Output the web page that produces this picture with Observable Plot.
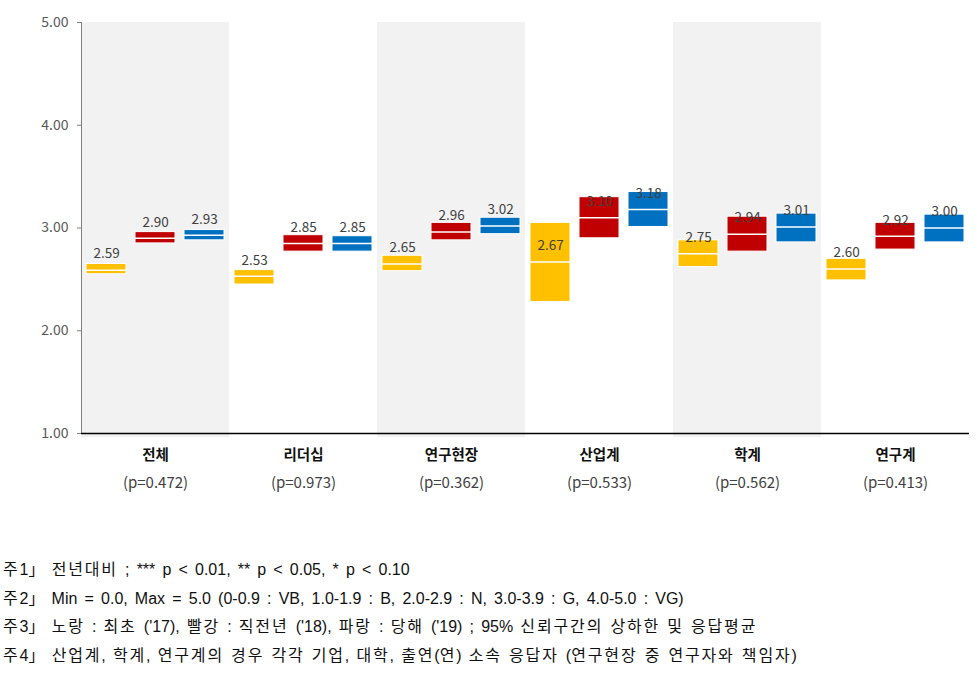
<!DOCTYPE html>
<html>
<head>
<meta charset="utf-8">
<script src="https://cdn.jsdelivr.net/npm/d3@7"></script>
<script src="https://cdn.jsdelivr.net/npm/@observablehq/plot@0.6"></script>
<style>
  body { margin: 0; background: #fff; font-family: "Noto Sans CJK KR", "Noto Sans", sans-serif; }
  #wrap { position: relative; width: 979px; height: 679px; }
  #notes { position: absolute; left: 3px; top: 556px; font-size: 16px; line-height: 28.7px; color: #111; font-family: "Liberation Sans", "Noto Sans CJK KR", sans-serif; word-spacing: 2.7px; }
  #notes div { white-space: nowrap; }
  #notes .k { letter-spacing: 1.85px; }
</style>
</head>
<body>
<div id="wrap">
  <div id="chart"></div>
  <div id="notes"></div>
</div>
<script>
// ---- data ----
const groups = ["전체", "리더십", "연구현장", "산업계", "학계", "연구계"];
const pLabels = ["(p=0.472)", "(p=0.973)", "(p=0.362)", "(p=0.533)", "(p=0.562)", "(p=0.413)"];
const seriesNames = ["최초('17)", "직전년('18)", "당해('19)"];
const seriesColors = ["#FFC000", "#C00000", "#0070C0"];
const shadedGroups = ["전체", "연구현장", "학계"];
const yTicks = [1, 2, 3, 4, 5];

const mean17 = [2.59, 2.53, 2.65, 2.67, 2.75, 2.60];
const lower17 = [2.55, 2.45, 2.58, 2.28, 2.62, 2.49];
const upper17 = [2.65, 2.59, 2.73, 3.05, 2.88, 2.70];

const mean18 = [2.90, 2.85, 2.96, 3.10, 2.94, 2.92];
const lower18 = [2.85, 2.77, 2.88, 2.90, 2.77, 2.79];
const upper18 = [2.96, 2.93, 3.05, 3.30, 3.11, 3.05];

const mean19 = [2.93, 2.85, 3.02, 3.18, 3.01, 3.00];
const lower19 = [2.88, 2.77, 2.94, 3.01, 2.86, 2.86];
const upper19 = [2.98, 2.92, 3.10, 3.35, 3.14, 3.13];

const notes = [
  "주1」 전년대비 ; *** p < 0.01, ** p < 0.05, * p < 0.10",
  "주2」 Min = 0.0, Max = 5.0 (0-0.9 : VB, 1.0-1.9 : B, 2.0-2.9 : N, 3.0-3.9 : G, 4.0-5.0 : VG)",
  "주3」 노랑 : 최초 ('17), 빨강 : 직전년 ('18), 파랑 : 당해 ('19) ; 95% 신뢰구간의 상하한 및 응답평균",
  "주4」 산업계, 학계, 연구계의 경우 각각 기업, 대학, 출연(연) 소속 응답자 (연구현장 중 연구자와 책임자)"
];

// ---- build table ----
const means = [mean17, mean18, mean19];
const lowers = [lower17, lower18, lower19];
const uppers = [upper17, upper18, upper19];
const rows = [];
groups.forEach((g, i) => {
  seriesNames.forEach((s, j) => {
    rows.push({group: g, series: s, mean: means[j][i], lo: lowers[j][i], hi: uppers[j][i]});
  });
});
const yMin = d3.min(yTicks), yMax = d3.max(yTicks);
const font = '"Noto Sans CJK KR", "Noto Sans", sans-serif';
const fmt = d3.format(".2f");

const chart = Plot.plot({
  width: 979,
  height: 510,
  marginLeft: 80,
  marginRight: 9,
  marginTop: 22,
  marginBottom: 77,
  style: {fontFamily: font, fontSize: "14px", color: "#595959", background: "transparent"},
  fx: {domain: groups, padding: 0, axis: null},
  x: {domain: seriesNames, paddingInner: 0.19, paddingOuter: 0.095, axis: null},
  y: {domain: [yMin, yMax], label: null},
  color: {domain: seriesNames, range: seriesColors},
  marks: [
    Plot.rect(shadedGroups, {fx: d => d, y1: () => yMin, y2: () => yMax, fill: "#F2F2F2", insetBottom: -4}),
    Plot.axisY({ticks: yTicks, tickSize: 4, text: null, stroke: "#808080", label: null}),
    Plot.text(yTicks, {y: d => d, text: d => fmt(d), frameAnchor: "left", textAnchor: "end", dx: -13, fontSize: 14, fill: "#595959", facetAnchor: "left"}),
    Plot.frame({anchor: "left", facetAnchor: "left", stroke: "#808080"}),
    Plot.ruleY([yMin], {stroke: "#000", strokeWidth: 1.5}),
    Plot.rect(rows, {fx: "group", x: "series", y1: "lo", y2: "hi", fill: "series", stroke: "#fff", strokeWidth: 1}),
    Plot.tickY(rows, {fx: "group", x: "series", y: "mean", stroke: "#fff", strokeWidth: 1.5}),
    Plot.text(rows, {fx: "group", x: "series", y: "mean", text: d => d.mean.toFixed(2), dy: -16, fontSize: 13.5, fill: "#404040"}),
    Plot.text(groups, {fx: d => d, text: d => d, frameAnchor: "bottom", dy: 26, fontSize: 14.5, fontWeight: "bold", fill: "#111"}),
    Plot.text(groups, {fx: d => d, text: d => pLabels[groups.indexOf(d)], frameAnchor: "bottom", dy: 54, fontSize: 15, fill: "#404040"})
  ]
});
document.getElementById("chart").appendChild(chart);

const nd = document.getElementById("notes");
notes.forEach(t => {
  const el = document.createElement("div");
  t.split(/([\uAC00-\uD7A3]+)/).forEach(part => {
    if (!part) return;
    if (/[\uAC00-\uD7A3]/.test(part)) {
      const s = document.createElement("span");
      s.className = "k";
      s.textContent = part;
      el.appendChild(s);
    } else {
      el.appendChild(document.createTextNode(part));
    }
  });
  nd.appendChild(el);
});
</script>
</body>
</html>
